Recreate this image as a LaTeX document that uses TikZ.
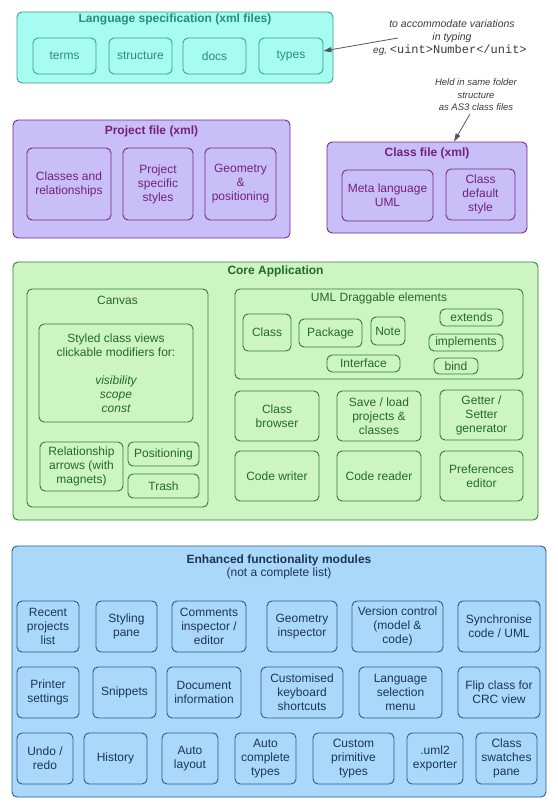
\documentclass[tikz,border=0pt]{standalone}
\usepackage{fontspec}
\setmainfont{Liberation Sans}
\newfontfamily\monofont{Liberation Mono}
\usetikzlibrary{arrows.meta}
\definecolor{lfill}{HTML}{A6FCF0}
\definecolor{ldraw}{HTML}{3A9E8E}
\definecolor{ltext}{HTML}{2A8C7E}
\definecolor{pfill}{HTML}{C8BFF8}
\definecolor{pdraw}{HTML}{7A2484}
\definecolor{ptext}{HTML}{75207C}
\definecolor{cfill}{HTML}{CDF5C4}
\definecolor{cdraw}{HTML}{2F7D32}
\definecolor{ctext}{HTML}{226B22}
\definecolor{efill}{HTML}{AAD8FB}
\definecolor{edraw}{HTML}{2B5A86}
\definecolor{etext}{HTML}{1C3557}
\definecolor{arrowgray}{HTML}{555555}
\definecolor{notegray}{HTML}{3A3A3A}
\newcommand\bx[7]{\node[#1, minimum width={(#5-#3)*1pt}, minimum height={(#6-#4)*1pt}] (#2) at ({(#3+#5)/2},{(#4+#6)/2}) {#7};}
\begin{document}
\begin{tikzpicture}[x=1pt,y=-1pt,
  base/.style={rectangle, rounded corners=5pt, line width=0.9pt, inner sep=1pt, align=center, font=\fontsize{12}{14}\selectfont},
  lbox/.style={base, fill=lfill, draw=ldraw, text=ltext},
  pbox/.style={base, fill=pfill, draw=pdraw, text=ptext},
  cbox/.style={base, fill=cfill, draw=cdraw, text=ctext},
  ebox/.style={base, fill=efill, draw=edraw, text=etext},
  ttl/.style={inner sep=0pt, font=\bfseries\fontsize{12}{14}\selectfont},
  sub/.style={inner sep=0pt, font=\fontsize{12}{14}\selectfont},
  note/.style={inner sep=0pt, align=center, text=notegray, font=\itshape\fontsize{10.5}{13}\selectfont},
  pointer/.style={draw=arrowgray, line width=0.8pt, -{Triangle[length=8pt,width=5pt]}}
]
\useasboundingbox (0,0) rectangle (557,808);

% Language specification
\bx{lbox}{lang}{17}{12}{333}{83}{}
\node[ttl, text=ltext] (langT) at (175,19) {Language specification (xml files)};
\bx{lbox}{terms}{33}{38}{96}{74}{terms}
\bx{lbox}{struct}{109}{38}{172}{74}{structure}
\bx{lbox}{docs}{183}{38}{246}{74}{docs}
\bx{lbox}{types}{259}{38}{323}{74}{types}

% notes
\node[note] (noteA) at (452,31) {to accommodate variations\\in typing};
\node[inner sep=0pt, anchor=west, text=notegray] (noteB) at (373,50) {{\itshape\fontsize{10}{12}\selectfont eg,} {\monofont\fontsize{12}{14}\selectfont <uint>Number</unit>}};
\coordinate (a1) at (398,38);
\draw[pointer] (a1) -- ([yshift=5pt]types.east);
\node[note, font=\itshape\fontsize{9.5}{12.5}\selectfont] (noteC) at (476,95) {Held in same folder\\structure\\as AS3 class files};
\coordinate (a2) at (470,114);

% Project file
\bx{pbox}{proj}{13}{120}{290}{238}{}
\node[ttl, text=ptext] (projT) at (151.5,131) {Project file (xml)};
\bx{pbox}{classes}{27}{148}{111}{220}{Classes and\\relationships}
\bx{pbox}{pstyles}{123}{148}{193}{220}{Project\\specific\\styles}
\bx{pbox}{geom}{205}{148}{276}{220}{Geometry\\\&\\positioning}

% Class file
\bx{pbox}{classf}{327}{142}{527}{233}{}
\node[ttl, text=ptext] (classfT) at (427,153) {Class file (xml)};
\bx{pbox}{meta}{342}{170}{433}{221}{Meta language\\UML}
\bx{pbox}{cdef}{446}{169}{515}{220}{Class\\default\\style}
\draw[pointer] (a2) -- ([xshift=27pt]classf.north);

% Core application
\bx{cbox}{core}{13}{262}{538}{520}{}
\node[ttl, text=ctext] (coreT) at (275.5,271) {Core Application};
\bx{cbox}{canvas}{27}{289}{208}{507}{}
\node[sub, text=ctext] (canvasT) at (117.5,300) {Canvas};
\bx{cbox}{styled}{39}{324}{193}{422}{Styled class views\\clickable modifiers for:\\[14pt]\itshape visibility\\\itshape scope\\\itshape const}
\bx{cbox}{relarr}{40}{442}{123}{491}{Relationship\\arrows (with\\magnets)}
\bx{cbox}{posit}{128}{442}{199}{466}{Positioning}
\bx{cbox}{trash}{128}{474}{199}{498}{Trash}

\bx{cbox}{uml}{235}{289}{523}{379}{}
\node[sub, text=ctext] (umlT) at (379,298) {UML Draggable elements};
\bx{cbox}{uclass}{243}{314}{291}{351}{Class}
\bx{cbox}{package}{299}{319}{362}{347}{Package}
\bx{cbox}{unote}{371}{317}{405}{345}{Note}
\bx{cbox}{extends}{440}{309}{503}{326}{extends}
\bx{cbox}{implements}{429}{334}{503}{351}{implements}
\bx{cbox}{bind}{434}{358}{478}{374}{bind}
\bx{cbox}{interface}{327}{355}{400}{372}{Interface}

\bx{cbox}{cbrowser}{235}{391}{319}{441}{Class\\browser}
\bx{cbox}{saveload}{337}{391}{421}{441}{Save / load\\projects \&\\classes}
\bx{cbox}{getter}{440}{390}{523}{440}{Getter /\\Setter\\generator}
\bx{cbox}{cwriter}{235}{451}{319}{501}{Code writer}
\bx{cbox}{creader}{337}{451}{421}{501}{Code reader}
\bx{cbox}{prefs}{440}{451}{523}{501}{Preferences\\editor}

% Enhanced functionality
\bx{ebox}{enh}{12}{546}{546}{797}{}
\node[ttl, text=etext] (enhT) at (279,560) {Enhanced functionality modules};
\node[sub, text=etext] (enhS) at (279,573.5) {(not a complete list)};

\bx{ebox}{recent}{17}{601}{79}{652}{Recent\\projects\\list}
\bx{ebox}{styling}{96}{601}{157}{652}{Styling\\pane}
\bx{ebox}{comments}{172}{601}{246}{652}{Comments\\inspector /\\editor}
\bx{ebox}{geomi}{267}{601}{337}{652}{Geometry\\inspector}
\bx{ebox}{version}{352}{601}{443}{652}{Version control\\(model \&\\code)}
\bx{ebox}{sync}{458}{601}{540}{652}{Synchronise\\code / UML}

\bx{ebox}{printer}{17}{667}{79}{718}{Printer\\settings}
\bx{ebox}{snippets}{93}{667}{156}{718}{Snippets}
\bx{ebox}{docinfo}{167}{667}{241}{718}{Document\\information}
\bx{ebox}{keys}{261}{667}{343}{718}{Customised\\keyboard\\shortcuts}
\bx{ebox}{langsel}{359}{667}{442}{718}{Language\\selection\\menu}
\bx{ebox}{flip}{458}{667}{540}{718}{Flip class for\\CRC view}

\bx{ebox}{undo}{17}{733}{73}{784}{Undo /\\redo}
\bx{ebox}{history}{84}{733}{147}{784}{History}
\bx{ebox}{autolay}{162}{733}{218}{784}{Auto\\layout}
\bx{ebox}{autocomp}{235}{733}{296}{784}{Auto\\complete\\types}
\bx{ebox}{custom}{313}{733}{394}{784}{Custom\\primitive\\types}
\bx{ebox}{uml2}{407}{733}{463}{784}{.uml2\\exporter}
\bx{ebox}{swatches}{476}{733}{537}{784}{Class\\swatches\\pane}
\end{tikzpicture}
\end{document}
